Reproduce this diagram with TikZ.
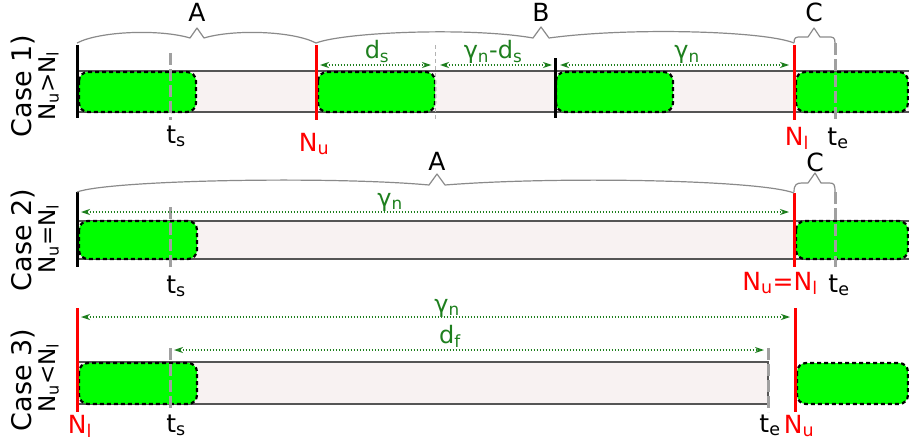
\documentclass[tikz,border=0pt]{standalone}
\usepackage{fontspec}
\setmainfont{DejaVu Sans}
\usetikzlibrary{arrows.meta}
\definecolor{barfill}{HTML}{F8F2F2}
\definecolor{barline}{HTML}{555555}
\definecolor{slotgreen}{HTML}{00FF00}
\definecolor{dgreen}{HTML}{1E7F1E}
\definecolor{tgray}{HTML}{A0A0A0}
\definecolor{bgray}{HTML}{8A8A8A}
\begin{document}
\begin{tikzpicture}[x=1pt,y=-1pt,
  bar/.style={fill=barfill,draw=barline,line width=1.5pt},
  slot/.style={fill=slotgreen,draw=black,line width=2.2pt,dash pattern=on 4pt off 3pt,rounded corners=9pt},
  blackline/.style={line width=3pt,black},
  redline/.style={line width=3pt,red},
  tmark/.style={line width=3pt,tgray,dash pattern=on 12pt off 4pt},
  faintmark/.style={line width=0.8pt,black!30,dash pattern=on 4pt off 3pt},
  meas/.style={dgreen,line width=1.2pt,dash pattern=on 1.5pt off 1.5pt,
    {Stealth[length=9pt,width=6pt]}-{Stealth[length=9pt,width=6pt]}},
  brc/.style={bgray,line width=1.2pt,line join=round},
  lab/.style={font=\fontsize{25}{29}\selectfont,inner sep=0pt,anchor=base},
  glab/.style={lab,dgreen,font=\fontsize{24}{28}\selectfont},
  rlab/.style={lab,red},
  caselab/.style={font=\fontsize{27}{31}\selectfont,inner sep=0pt,anchor=base,rotate=90},
  rellab/.style={font=\fontsize{23}{27}\selectfont,inner sep=0pt,anchor=base,rotate=90}
]
\useasboundingbox (0,0) rectangle (909,444);

% ================= Case 1 =================
\node[caselab] (c1a) at (31,86) {Case 1)};
\node[rellab] (c1b) at (55,86) {N\textsubscript{u}>N\textsubscript{l}};
\path[bar] (77,71) rectangle (915,112);
\path[slot] (79,72) rectangle (196,112);
\path[slot] (318,72) rectangle (435,112);
\path[slot] (556,72) rectangle (673,112);
\path[slot] (796,72) rectangle (908,112);
\draw[faintmark] (435,45) -- (435,120);
\draw[tmark] (170,53) -- (170,120);
\draw[tmark] (835,43) -- (835,120);
\draw[blackline] (77,45) -- (77,118);
\draw[blackline] (555,58) -- (555,118);
\draw[redline] (316,45) -- (316,120);
\draw[redline] (794,45) -- (794,120);
\coordinate (a1) at (320,65); \coordinate (a2) at (431,65);
\coordinate (b1) at (440,65); \coordinate (b2) at (552,65);
\coordinate (g1) at (560,65); \coordinate (g2) at (789,65);
\draw[meas] (a1) -- (a2);
\draw[meas] (b1) -- (b2);
\draw[meas] (g1) -- (g2);
\node[glab] (ds) at (377,59) {d\textsubscript{s}};
\node[glab] (gds) at (493,59) {γ\textsubscript{n}-d\textsubscript{s}};
\node[glab] (gn1) at (687,59) {γ\textsubscript{n}};
\draw[brc] (77,43) .. controls (100,31) and (160,29) .. (190,38) -- (197,28) -- (204,38)
  .. controls (234,29) and (293,31) .. (316,43);
\draw[brc] (316,43) .. controls (345,32) and (470,27) .. (533,38) -- (541,27) -- (549,38)
  .. controls (630,27) and (765,31) .. (794,43);
\draw[brc] (794,43) .. controls (794,37) and (796,37) .. (801,37) -- (808,37) -- (814,28)
  -- (820,37) -- (828,37) .. controls (833,37) and (835,37) .. (835,43);
\node[lab] (A1) at (197,22) {A};
\node[lab] (B1) at (541,22) {B};
\node[lab] (C1) at (814,22) {C};
\node[lab] (ts1) at (176,143) {t\textsubscript{s}};
\node[rlab] (nu1) at (314,151) {N\textsubscript{u}};
\node[rlab] (nl1) at (797,145) {N\textsubscript{l}};
\node[lab] (te1) at (838,145) {t\textsubscript{e}};

% ================= Case 2 =================
\node[caselab] (c2a) at (31,240) {Case 2)};
\node[rellab] (c2b) at (55,239) {N\textsubscript{u}=N\textsubscript{l}};
\path[bar] (77,221) rectangle (915,259);
\path[slot] (79,221) rectangle (197,259);
\path[slot] (796,221) rectangle (908,259);
\draw[tmark] (170,207) -- (170,267);
\draw[tmark] (835,192) -- (835,267);
\draw[blackline] (77,192) -- (77,267);
\draw[redline] (794,193) -- (794,267);
\coordinate (h1) at (81,212); \coordinate (h2) at (789,212);
\draw[meas] (h1) -- (h2);
\node[glab] (gn2) at (390,206) {γ\textsubscript{n}};
\draw[brc] (77,192) .. controls (110,180) and (330,176) .. (429,185) -- (437,174) -- (445,185)
  .. controls (560,176) and (760,180) .. (794,193);
\draw[brc] (794,192) .. controls (794,184) and (797,183) .. (802,183) -- (808,183) -- (815,173)
  -- (821,183) -- (829,183) .. controls (834,183) and (835,184) .. (835,192);
\node[lab] (A2) at (437,170) {A};
\node[lab] (C2) at (815,171) {C};
\node[lab] (ts2) at (176,293) {t\textsubscript{s}};
\node[rlab] (nuel) at (780,290) {N\textsubscript{u}=N\textsubscript{l}};
\node[lab] (te2) at (839,292) {t\textsubscript{e}};

% ================= Case 3 =================
\node[caselab] (c3a) at (31,380) {Case 3)};
\node[rellab] (c3b) at (55,378) {N\textsubscript{u}<N\textsubscript{l}};
\path[bar] (77,362) rectangle (768,404);
\path[slot] (79,363) rectangle (197,404);
\path[slot] (797,363) rectangle (908,404);
\draw[tmark] (170,348) -- (170,410);
\draw[tmark] (768,348) -- (768,412);
\draw[redline] (77,308) -- (77,412);
\draw[redline] (795,308) -- (795,412);
\coordinate (k1) at (81,317); \coordinate (k2) at (790,317);
\coordinate (f1) at (174,350); \coordinate (f2) at (764,350);
\draw[meas] (k1) -- (k2);
\draw[meas] (f1) -- (f2);
\node[glab] (gn3) at (447,312) {γ\textsubscript{n}};
\node[glab] (df) at (450,343) {d\textsubscript{f}};
\node[rlab] (nl3) at (80,433) {N\textsubscript{l}};
\node[lab] (ts3) at (176,432) {t\textsubscript{s}};
\node[lab] (te3) at (770,432) {t\textsubscript{e}};
\node[rlab] (nu3) at (799,433) {N\textsubscript{u}};
\end{tikzpicture}
\end{document}
